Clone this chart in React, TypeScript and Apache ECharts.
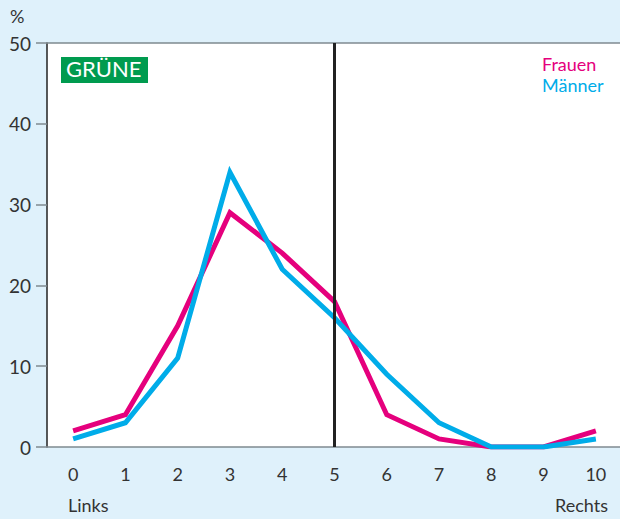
import React, { useEffect, useRef } from "react";
import * as echarts from "echarts";

const categories = ["0", "1", "2", "3", "4", "5", "6", "7", "8", "9", "10"];
const frauen = [2, 4, 15, 29, 24, 18, 4, 1, 0, 0, 2];
const maenner = [1, 3, 11, 34, 22, 16, 9, 3, 0, 0, 1];
const yTicks = { min: 0, max: 50, interval: 10 };

const MAGENTA = "#e5007d";
const CYAN = "#00ace9";
const BG = "#dff1fb";
const FONT = "Lato, 'Noto Sans', sans-serif";

export default function App() {
  const ref = useRef<HTMLDivElement>(null);
  useEffect(() => {
    document.body.style.margin = "0";
    const chart = echarts.init(ref.current!, null, { renderer: "svg" });
    chart.setOption({
      animation: false,
      backgroundColor: BG,
      textStyle: { fontFamily: FONT },
      grid: {
        left: 47,
        width: 575,
        top: 43,
        bottom: 72,
        outerBoundsMode: "none",
        containLabel: false,
        show: true,
        backgroundColor: "#ffffff",
        borderWidth: 0,
      },
      xAxis: [
        {
          type: "category",
          data: categories,
          boundaryGap: true,
          axisLine: { lineStyle: { color: "#7f8a90", width: 1.5 } },
          axisTick: { alignWithLabel: true, length: 10, lineStyle: { color: "#555", width: 1.5 } },
          axisLabel: { color: "#333", fontSize: 18, margin: 18, fontFamily: FONT },
        },
        {
          type: "category",
          data: categories,
          position: "top",
          axisLine: { lineStyle: { color: "#7f8a90", width: 1.5 } },
          axisTick: { show: false },
          axisLabel: { show: false },
        },
      ],
      yAxis: {
        type: "value",
        min: yTicks.min,
        max: yTicks.max,
        interval: yTicks.interval,
        axisLine: { show: true, lineStyle: { color: "#222", width: 1.5 } },
        axisTick: { show: true, length: 11, lineStyle: { color: "#7f8a90", width: 1.5 } },
        axisLabel: { color: "#333", fontSize: 19, margin: 16, fontFamily: FONT },
        splitLine: { show: false },
      },
      series: [
        {
          name: "Frauen",
          type: "line",
          data: frauen,
          symbol: "none",
          lineStyle: { color: MAGENTA, width: 5, join: "miter" },
          z: 3,
          markLine: {
            silent: true,
            symbol: ["none", "none"],
            label: { show: false },
            lineStyle: { color: "#222", width: 3, type: "solid" },
            data: [{ xAxis: "5" }],
          },
        },
        {
          name: "Männer",
          type: "line",
          data: maenner,
          symbol: "none",
          lineStyle: { color: CYAN, width: 5, join: "miter" },
          z: 4,
        },
      ],
      graphic: [
        {
          type: "text",
          left: 10,
          top: 7,
          style: { text: "%", fill: "#333", fontSize: 18, fontFamily: FONT },
        },
        {
          type: "rect",
          left: 61,
          top: 57,
          shape: { width: 87, height: 26 },
          style: { fill: "#009b4f" },
        },
        {
          type: "text",
          left: 66,
          top: 57,
          style: {
            text: "GRÜNE",
            fill: "#fff",
            fontSize: 22,
            fontFamily: FONT,
          },
        },
        {
          type: "text",
          left: 542,
          top: 55,
          style: { text: "Frauen", fill: MAGENTA, fontSize: 18, fontFamily: FONT },
        },
        {
          type: "text",
          left: 542,
          top: 76,
          style: { text: "Männer", fill: CYAN, fontSize: 18, fontFamily: FONT },
        },
        {
          type: "text",
          left: 68,
          top: 496,
          style: { text: "Links", fill: "#333", fontSize: 18, fontFamily: FONT },
        },
        {
          type: "text",
          left: 555,
          top: 496,
          style: { text: "Rechts", fill: "#333", fontSize: 18, fontFamily: FONT },
        },
      ],
    });
    return () => chart.dispose();
  }, []);
  return <div ref={ref} style={{ width: 620, height: 519 }} />;
}
